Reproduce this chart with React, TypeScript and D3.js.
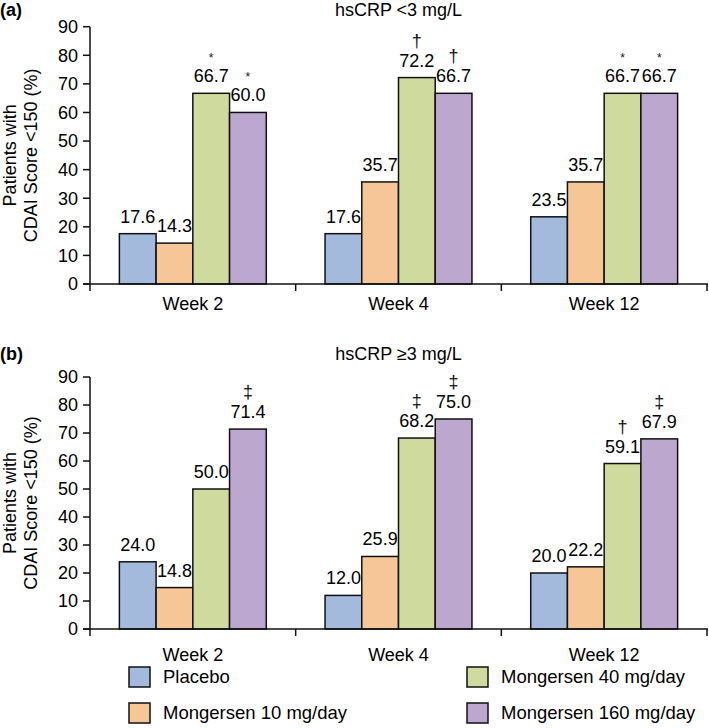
import React from "react";
import * as d3 from "d3";

const weeks = ["Week 2", "Week 4", "Week 12"];
const seriesNames = ["Placebo", "Mongersen 10 mg/day", "Mongersen 40 mg/day", "Mongersen 160 mg/day"];
const seriesColors = ["#A3BADD", "#F7C696", "#CEDA9E", "#BCA7CF"];
const yTicks = [0, 10, 20, 30, 40, 50, 60, 70, 80, 90];

// values[week][series]
const lowCRPValues = [
  [17.6, 14.3, 66.7, 60.0],
  [17.6, 35.7, 72.2, 66.7],
  [23.5, 35.7, 66.7, 66.7],
];
const lowCRPMarks = [
  ["", "", "*", "*"],
  ["", "", "†", "†"],
  ["", "", "*", "*"],
];
const highCRPValues = [
  [24.0, 14.8, 50.0, 71.4],
  [12.0, 25.9, 68.2, 75.0],
  [20.0, 22.2, 59.1, 67.9],
];
const highCRPMarks = [
  ["", "", "", "‡"],
  ["", "", "‡", "‡"],
  ["", "", "†", "‡"],
];

const FONT = "'Liberation Sans', Arial, Helvetica, sans-serif";
const FS = 18;

type PanelProps = {
  letter: string;
  title: string;
  values: number[][];
  marks: string[][];
  yTop: number;
  yBottom: number;
  titleY: number;
  weekLabelY: number;
};

const X0 = 90;
const X1 = 707;

function Panel({ letter, title, values, marks, yTop, yBottom, titleY, weekLabelY }: PanelProps) {
  const x = d3.scaleBand<string>().domain(weeks).range([X0, X1]).paddingInner(0).paddingOuter(0);
  const inner = d3
    .scaleBand<string>()
    .domain(seriesNames)
    .range([0, x.bandwidth()])
    .paddingInner(0)
    .paddingOuter(0.8);
  const y = d3.scaleLinear().domain([0, 90]).range([yBottom, yTop]);
  const midY = (yTop + yBottom) / 2;
  const boundaries = [X0, ...weeks.map((w) => (x(w) as number) + x.bandwidth())];

  return (
    <g>
      <text x={0} y={titleY} fontFamily={FONT} fontWeight="bold" fontSize={FS}>
        {letter}
      </text>
      <text x={(X0 + X1) / 2} y={titleY} fontFamily={FONT} fontSize={FS} textAnchor="middle">
        {title}
      </text>
      {/* y-axis label */}
      <text
        transform={`translate(16,${midY}) rotate(-90)`}
        fontFamily={FONT}
        fontSize={FS}
        textAnchor="middle"
      >
        Patients with
      </text>
      <text
        transform={`translate(37,${midY}) rotate(-90)`}
        fontFamily={FONT}
        fontSize={FS}
        textAnchor="middle"
      >
        CDAI Score &lt;150 (%)
      </text>
      {/* bars */}
      {weeks.map((w, wi) =>
        seriesNames.map((s, si) => {
          const v = values[wi][si];
          const bx = (x(w) as number) + (inner(s) as number);
          const bw = inner.bandwidth();
          const top = y(v);
          const cx = bx + bw / 2;
          return (
            <g key={w + s}>
              <rect
                x={bx}
                y={top}
                width={bw}
                height={y(0) - top}
                fill={seriesColors[si]}
                stroke="#111"
                strokeWidth={1.5}
              />
              <text x={cx} y={top - 11} fontFamily={FONT} fontSize={FS} textAnchor="middle">
                {v.toFixed(1)}
              </text>
              {marks[wi][si] && (
                <text
                  x={cx}
                  y={top - 31}
                  fontFamily={FONT}
                  fontSize={marks[wi][si] === "*" ? 12 : FS}
                  textAnchor="middle"
                  fill="#111"
                >
                  {marks[wi][si]}
                </text>
              )}
            </g>
          );
        })
      )}
      {/* y axis */}
      <line x1={X0} x2={X0} y1={y(0)} y2={y(90)} stroke="#111" strokeWidth={1.5} />
      {yTicks.map((t) => (
        <g key={t}>
          <line x1={X0 - 7} x2={X0} y1={y(t)} y2={y(t)} stroke="#111" strokeWidth={1.5} />
          <text
            x={X0 - 12}
            y={y(t)}
            dy="0.35em"
            fontFamily={FONT}
            fontSize={FS}
            textAnchor="end"
          >
            {t}
          </text>
        </g>
      ))}
      {/* x axis */}
      <line x1={X0 - 7} x2={X1 + 1} y1={y(0)} y2={y(0)} stroke="#111" strokeWidth={1.5} />
      {boundaries.map((b, i) => (
        <line key={i} x1={b} x2={b} y1={y(0)} y2={y(0) + 7} stroke="#111" strokeWidth={1.5} />
      ))}
      {weeks.map((w) => (
        <text
          key={w}
          x={(x(w) as number) + x.bandwidth() / 2}
          y={weekLabelY}
          fontFamily={FONT}
          fontSize={FS}
          textAnchor="middle"
        >
          {w}
        </text>
      ))}
    </g>
  );
}

export default function App() {
  const legendCols = [129, 467];
  const legendRows = [667, 703];
  return (
    <svg
      width={709}
      height={728}
      style={{ position: "absolute", left: 0, top: 0, background: "#fff" }}
    >
      <rect width={709} height={728} fill="#fff" />
      <Panel
        letter="(a)"
        title="hsCRP <3 mg/L"
        values={lowCRPValues}
        marks={lowCRPMarks}
        yTop={26.7}
        yBottom={284}
        titleY={16}
        weekLabelY={310}
      />
      <Panel
        letter="(b)"
        title="hsCRP ≥3 mg/L"
        values={highCRPValues}
        marks={highCRPMarks}
        yTop={377}
        yBottom={629}
        titleY={360}
        weekLabelY={661}
      />
      {seriesNames.map((s, i) => {
        const lx = legendCols[i < 2 ? 0 : 1];
        const ly = legendRows[i % 2 === 0 ? 0 : 1];
        return (
          <g key={s}>
            <rect x={lx} y={ly} width={21} height={20} fill={seriesColors[i]} stroke="#111" strokeWidth={1.5} />
            <text x={lx + 34} y={ly + 10} dy="0.35em" fontFamily={FONT} fontSize={18.5}>
              {s}
            </text>
          </g>
        );
      })}
    </svg>
  );
}
